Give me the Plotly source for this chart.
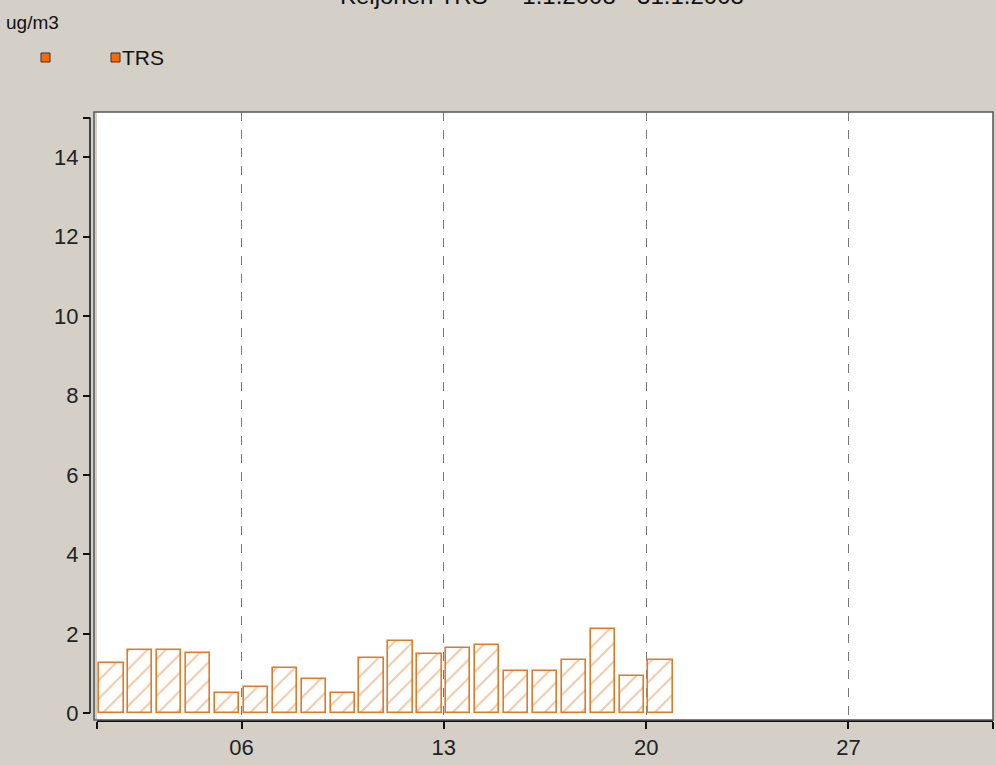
import plotly.graph_objects as go

# daily TRS values, January (day of month -> ug/m3)
days = list(range(1, 21))
trs_values = [1.27, 1.60, 1.60, 1.52, 0.50, 0.65, 1.15, 0.85, 0.50, 1.40,
              1.81, 1.50, 1.65, 1.71, 1.06, 1.06, 1.35, 2.11, 0.94, 1.35]

x_tick_vals = [1, 6, 13, 20, 27, 32]
x_tick_text = ["", "06", "13", "20", "27", ""]
grid_days = [6, 13, 20, 27]
y_tick_vals = [0, 2, 4, 6, 8, 10, 12, 14, 15]
y_tick_text = ["0", "2", "4", "6", "8", "10", "12", "14", ""]

title_text = "Keljonen TRS  -  1.1.2008 - 31.1.2008"
unit_text = "ug/m3"
series_name = "TRS"

W, H = 996, 765
L, R, T, B = 90, 3, 112, 45
PW, PH = W - L - R, H - T - B

BG = "#d4d0c8"
ORANGE = "#e07a26"
FONT = "Liberation Sans, Arial, sans-serif"


def px_x(px):
    return (px - L) / PW


def px_y(py):
    return (H - B - py) / PH


fig = go.Figure()
fig.add_trace(go.Bar(
    x=[d + 0.5 for d in days],
    y=trs_values,
    width=0.84,
    name=series_name,
    marker=dict(
        color="white",
        line=dict(color=ORANGE, width=1.6),
        pattern=dict(shape="/", fgcolor="#e39350", bgcolor="white",
                     size=13, solidity=0.16),
    ),
    showlegend=False,
))

# invisible trace on an overlaid axis just to carry the dashed weekly grid
fig.add_trace(go.Scatter(x=[None], y=[None], xaxis="x2", showlegend=False))

fig.update_layout(
    width=W, height=H,
    margin=dict(l=L, r=R, t=T, b=B),
    paper_bgcolor=BG,
    plot_bgcolor="white",
    font=dict(family=FONT, size=22, color="#222222"),
    showlegend=False,
    bargap=0,
    xaxis=dict(
        range=[1, 32],
        domain=[px_x(97), 1],
        tickvals=x_tick_vals,
        ticktext=x_tick_text,
        ticks="outside", ticklen=7, tickwidth=1.5, tickcolor="#111111",
        showline=True, linecolor="#111111", linewidth=2,
        showgrid=False, zeroline=False,
        anchor="y",
    ),
    xaxis2=dict(
        range=[1, 32],
        domain=[px_x(97), 1],
        overlaying="x",
        anchor="y",
        tickvals=grid_days,
        showticklabels=False,
        ticks="",
        showgrid=True, gridcolor="#777777", griddash="dash", gridwidth=1,
        zeroline=False,
    ),
    yaxis=dict(
        range=[-0.17, 15.14],
        tickvals=y_tick_vals,
        ticktext=y_tick_text,
        ticks="outside", ticklen=7, tickwidth=1.5, tickcolor="#111111",
        showline=False, showgrid=False, zeroline=False,
        anchor="free", position=0,
    ),
)

# y axis spine from 0 to 15, set a little left of the plot frame
fig.add_shape(type="line", xref="paper", yref="y", x0=0, x1=0, y0=0, y1=15,
              line=dict(color="#111111", width=1.5))
# plot frame (grey top / left / right edges), starts just right of the spine
fig.add_shape(type="rect", xref="paper", yref="paper", x0=px_x(94), x1=1, y0=0, y1=1,
              line=dict(color="#555555", width=1.5), layer="above")

# title, mostly cut off by the top edge as in the original
fig.add_annotation(text=title_text, xref="paper", yref="paper",
                   x=px_x(542), y=px_y(11), xanchor="center", yanchor="bottom",
                   showarrow=False, font=dict(size=24, color="#111111"))
fig.add_annotation(text=unit_text, xref="paper", yref="paper",
                   x=px_x(4), y=px_y(22), xanchor="left", yanchor="middle",
                   showarrow=False, font=dict(size=19, color="#111111"))
fig.add_annotation(text=series_name, xref="paper", yref="paper",
                   x=px_x(120), y=px_y(57), xanchor="left", yanchor="middle",
                   showarrow=False, font=dict(size=21, color="#111111"))
for sx in (41, 111):
    fig.add_shape(type="rect", xref="paper", yref="paper",
                  x0=px_x(sx), x1=px_x(sx + 9), y0=px_y(53), y1=px_y(62),
                  fillcolor="#ff6a00", line=dict(color="#333333", width=1))

fig.write_html("out.html", config={"displayModeBar": False},
               post_script="document.body.style.margin='0';")
